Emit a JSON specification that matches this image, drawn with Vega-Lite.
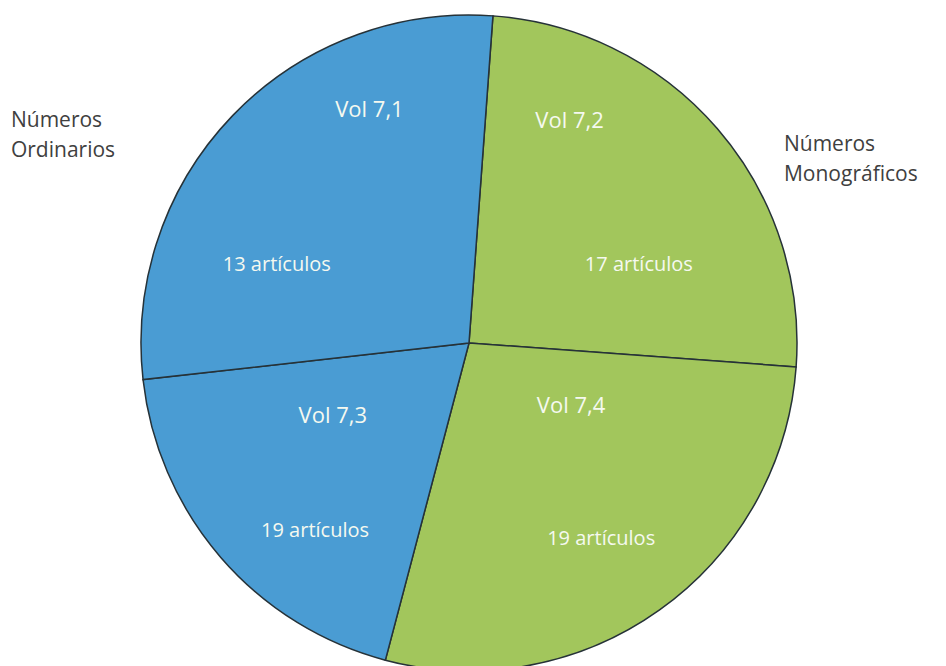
{
  "$schema": "https://vega.github.io/schema/vega-lite/v6.json",
  "width": 938,
  "height": 646,
  "autosize": {"type": "none"},
  "padding": {"left": 0, "top": 20, "right": 8, "bottom": 0},
  "background": "white",
  "view": {"stroke": null},
  "datasets": {
    "slices": [
      {"vol": "Vol 7,2", "order": 1, "value": 17, "grupo": "Números Monográficos"},
      {"vol": "Vol 7,4", "order": 2, "value": 19, "grupo": "Números Monográficos"},
      {"vol": "Vol 7,3", "order": 3, "value": 13, "grupo": "Números Ordinarios"},
      {"vol": "Vol 7,1", "order": 4, "value": 19, "grupo": "Números Ordinarios"}
    ],
    "labels": [
      {"text": "Vol 7,1", "kind": "vol", "angle": 336.2, "dist": 0.752},
      {"text": "13 artículos", "kind": "count", "angle": 290.6, "dist": 0.626},
      {"text": "Vol 7,2", "kind": "vol", "angle": 25.1, "dist": 0.723},
      {"text": "17 artículos", "kind": "count", "angle": 66.9, "dist": 0.563},
      {"text": "Vol 7,3", "kind": "vol", "angle": 239.5, "dist": 0.482},
      {"text": "19 artículos", "kind": "count", "angle": 218.5, "dist": 0.754},
      {"text": "Vol 7,4", "kind": "vol", "angle": 124.6, "dist": 0.378},
      {"text": "19 artículos", "kind": "count", "angle": 146.8, "dist": 0.736}
    ],
    "outer": [
      {"text": ["Números", "Ordinarios"], "angle": 295.25, "dist": 1.544},
      {"text": ["Números", "Monográficos"], "angle": 58.6, "dist": 1.125}
    ]
  },
  "layer": [
    {
      "data": {"name": "slices"},
      "mark": {"type": "arc", "outerRadius": 328, "stroke": "#263238", "strokeWidth": 1.5},
      "encoding": {
        "theta": {"field": "value", "type": "quantitative", "stack": true, "scale": {"range": [0.0730, 6.3562]}},
        "order": {"field": "order", "type": "quantitative"},
        "color": {"field": "grupo", "type": "nominal", "legend": null,
          "scale": {"domain": ["Números Ordinarios", "Números Monográficos"], "range": ["#4a9cd3", "#a2c65c"]}}
      }
    },
    {
      "data": {"name": "labels"},
      "mark": {"type": "text", "font": "Open Sans", "fontWeight": 500, "align": "center", "baseline": "alphabetic", "fill": "#f5f9f0"},
      "encoding": {
        "theta": {"field": "angle", "type": "quantitative", "scale": {"domain": [0, 360], "range": [0, 6.28319]}},
        "radius": {"field": "dist", "type": "quantitative", "scale": {"type": "linear", "domain": [0, 1], "range": [0, 328], "zero": true}},
        "text": {"field": "text", "type": "nominal"},
        "size": {"field": "kind", "type": "nominal", "legend": null, "scale": {"domain": ["vol", "count"], "range": [22, 20]}}
      }
    },
    {
      "data": {"name": "outer"},
      "mark": {"type": "text", "font": "Open Sans", "fontSize": 21, "align": "left", "baseline": "alphabetic", "lineHeight": 30, "fill": "#404040"},
      "encoding": {
        "theta": {"field": "angle", "type": "quantitative", "scale": {"domain": [0, 360], "range": [0, 6.28319]}},
        "radius": {"field": "dist", "type": "quantitative", "scale": {"type": "linear", "domain": [0, 1], "range": [0, 328], "zero": true}},
        "text": {"field": "text"}
      }
    }
  ],
  "resolve": {"scale": {"theta": "independent", "radius": "independent"}}
}
